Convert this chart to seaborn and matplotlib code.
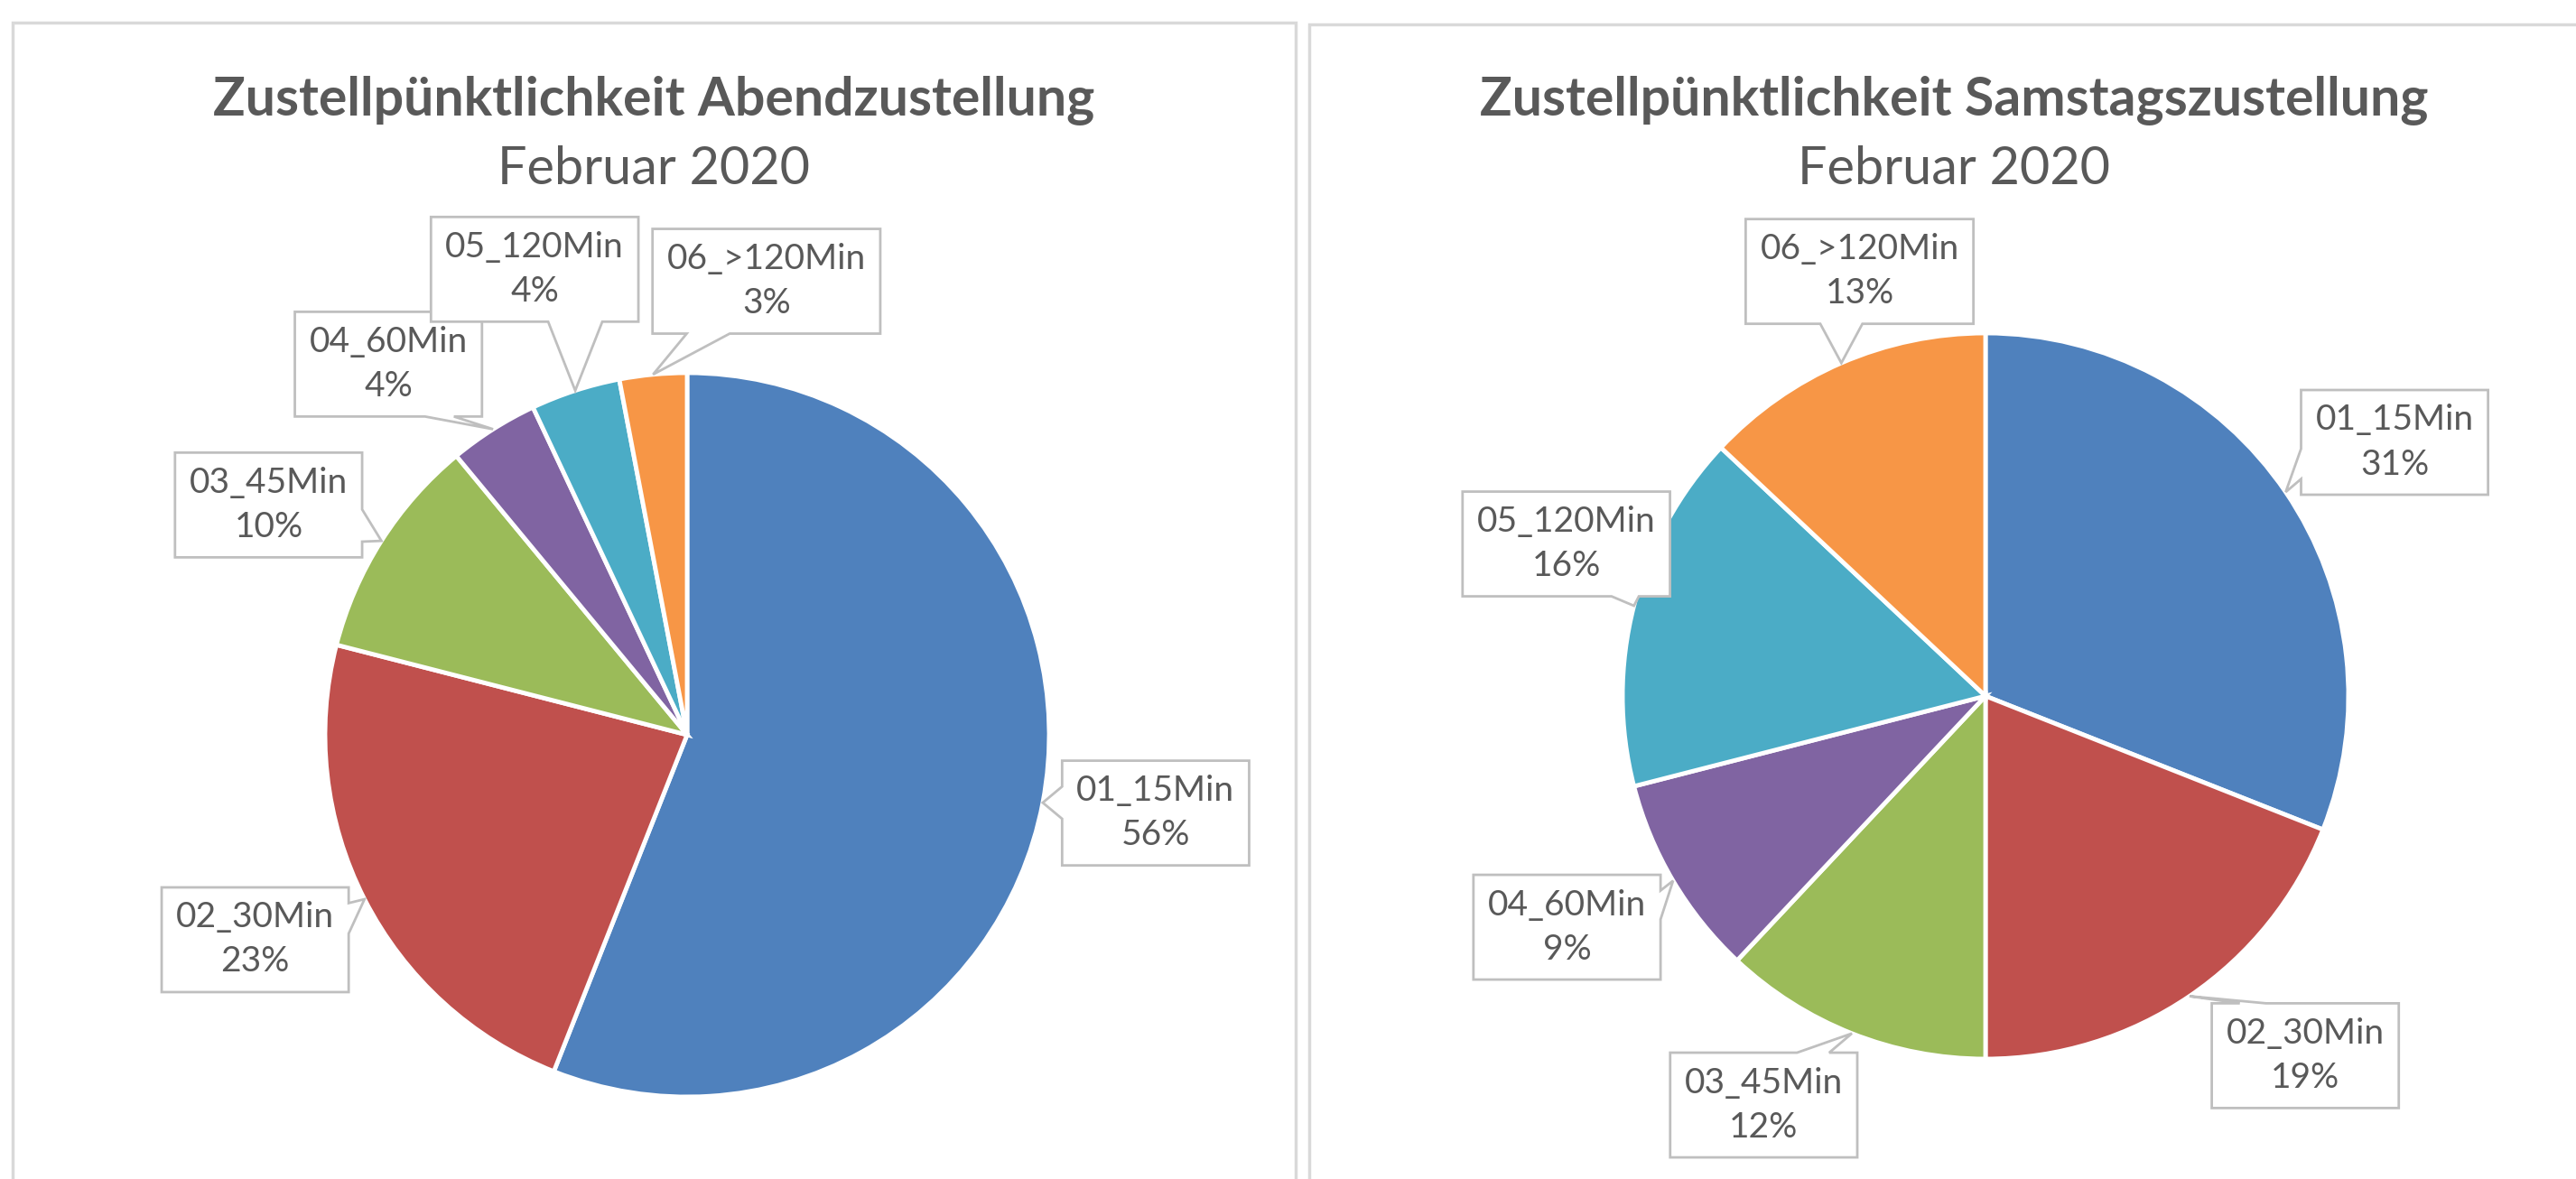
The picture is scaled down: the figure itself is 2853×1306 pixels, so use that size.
import numpy as np
import matplotlib
matplotlib.use("Agg")
import matplotlib.pyplot as plt
from matplotlib.patches import Rectangle, Polygon
from matplotlib.transforms import IdentityTransform
import seaborn as sns

# ---- data ----
categories = ['01_15Min', '02_30Min', '03_45Min', '04_60Min', '05_120Min', '06_>120Min']
abend_pct = [56, 23, 10, 4, 4, 3]
samstag_pct = [31, 19, 12, 9, 16, 13]
titles = ['Zustellpünktlichkeit Abendzustellung', 'Zustellpünktlichkeit Samstagszustellung']
subtitle = 'Februar 2020'

# excel 2010 style colours
colors = ['#4F81BD', '#C0504D', '#9BBB59', '#8064A2', '#4BACC6', '#F79646']
grey_txt = '#595959'
grey_box = '#BFBFBF'

# ---- layout (pixels, y from top) ----
W, H = 2853, 1306
panel_frames = [(14, 25, 1435), (1450, 27, 2880)]
title_x = [724, 2164]
pie_center = [(761, 814), (2199, 771)]
pie_radius = [401, 402]
# label box centres in pie-radius units, relative to pie centre
box_pos = [
    [(1.294, -0.216), (-1.193, -0.566), (-1.156, 0.635), (-0.825, 1.024), (-0.421, 1.286), (0.219, 1.253)],
    [(1.127, 0.699), (0.881, -0.991), (-0.611, -1.127), (-1.153, -0.637), (-1.155, 0.419), (-0.347, 1.170)],
]
BOX_H = 116      # px
BOX_PADX = 16    # px


def callout_verts(x0, y0, x1, y1, tip):
    """rectangle + pointer triangle as one outline (display px, y up)"""
    tx, ty = tip
    if ty > y1 or ty < y0:
        side = 'top' if ty > y1 else 'bottom'
        dist = ty - y1 if side == 'top' else y0 - ty
        length, pos, lo, hi = x1 - x0, tx, x0, x1
    else:
        side = 'left' if tx < x0 else 'right'
        dist = x0 - tx if side == 'left' else tx - x1
        length, pos, lo, hi = y1 - y0, ty, y0, y1
    bw = np.clip(0.5 * dist + 25, 25, 60)
    m = 0.15 * length
    c = np.clip(pos, lo + m + bw / 2, hi - m - bw / 2)
    a, b = c - bw / 2, c + bw / 2
    left = [(x0, y0)] + ([(x0, a), tip, (x0, b)] if side == 'left' else [])
    top = [(x0, y1)] + ([(a, y1), tip, (b, y1)] if side == 'top' else [])
    right = [(x1, y1)] + ([(x1, b), tip, (x1, a)] if side == 'right' else [])
    bottom = [(x1, y0)] + ([(b, y0), tip, (a, y0)] if side == 'bottom' else [])
    return left + top + right + bottom


sns.set_theme(style='white')
plt.rcParams['font.family'] = ['Lato', 'DejaVu Sans']

fig = plt.figure(figsize=(W / 100, H / 100), dpi=100)
fig.patch.set_facecolor('white')

# chart frames
for x0, y0, x1 in panel_frames:
    fig.add_artist(Rectangle((x0 / W, -0.1), (x1 - x0) / W, 1.1 - y0 / H,
                             transform=fig.transFigure, fill=False,
                             edgecolor='#D9D9D9', linewidth=2.5))

labels = []
for i, values in enumerate([abend_pct, samstag_pct]):
    cx, cy = pie_center[i]
    r = pie_radius[i]

    fig.text(title_x[i] / W, 1 - 128 / H, titles[i], ha='center', va='baseline',
             fontsize=42.5, fontweight='bold', color=grey_txt)
    fig.text(title_x[i] / W, 1 - 204 / H, subtitle, ha='center', va='baseline',
             fontsize=41.5, color=grey_txt)

    ax = fig.add_axes([(cx - r) / W, 1 - (cy + r) / H, 2 * r / W, 2 * r / H])
    wedges, _ = ax.pie(values, colors=colors, startangle=90, counterclock=False,
                       wedgeprops=dict(edgecolor='white', linewidth=3.5))
    ax.set_xlim(-1, 1)
    ax.set_ylim(-1, 1)
    ax.axis('off')

    total = sum(values)
    for w, cat, v, (bx, by) in zip(wedges, categories, values, box_pos[i]):
        ang = np.deg2rad((w.theta1 + w.theta2) / 2)
        tip = (np.cos(ang), np.sin(ang))
        t = ax.text(bx, by, f'{cat}\n{v / total * 100:.0f}%', ha='center', va='center',
                    fontsize=28, color=grey_txt, linespacing=1.45, zorder=6, clip_on=False)
        labels.append((ax, t, tip))

# callout boxes need the rendered text size
fig.canvas.draw()
renderer = fig.canvas.get_renderer()
for ax, t, tip in labels:
    ext = t.get_window_extent(renderer)
    xc, yc = (ext.x0 + ext.x1) / 2, (ext.y0 + ext.y1) / 2
    hw = ext.width / 2 + BOX_PADX
    verts = callout_verts(xc - hw, yc - BOX_H / 2, xc + hw, yc + BOX_H / 2,
                          tuple(ax.transData.transform(tip)))
    ax.add_patch(Polygon(verts, closed=True, facecolor='white', edgecolor=grey_box,
                         linewidth=2, transform=IdentityTransform(), zorder=5,
                         clip_on=False))

fig.savefig('out.png', dpi=100)
